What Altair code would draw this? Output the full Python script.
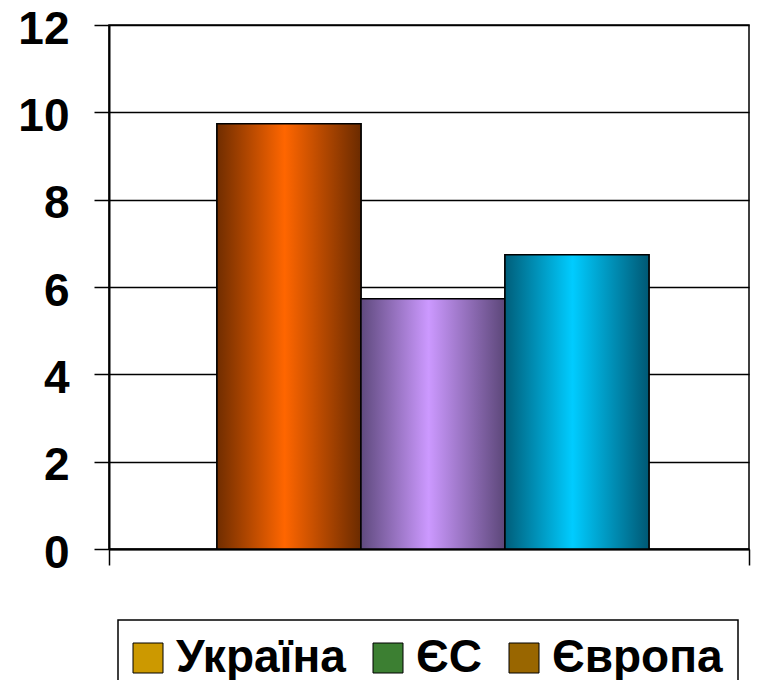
import altair as alt
import pandas as pd

series = ["Україна", "ЄС", "Європа"]
values = [9.74, 5.73, 6.74]
group = ["Показник", "Показник", "Показник"]
y_ticks = [0, 2, 4, 6, 8, 10, 12]
legend_colors = ["#CC9900", "#3C7F32", "#996600"]
bar_edge_left = ["#702D00", "#5F4A7E", "#005E7A"]
bar_mid = ["#FF6600", "#CC99FF", "#00CCFF"]
bar_edge_right = ["#6B2B00", "#5C4779", "#005874"]

df = pd.DataFrame({"group": group, "series": series, "value": values})

FONT = "Liberation Sans"

base = alt.Chart(df).encode(
    x=alt.X(
        "group:N",
        scale=alt.Scale(paddingInner=0, paddingOuter=0),
        axis=alt.Axis(
            title=None, labels=False, tickBand="extent", tickSize=16,
            tickColor="black", tickWidth=1.5, domainColor="black",
            domainWidth=2, grid=False,
        ),
    ),
    xOffset=alt.XOffset(
        "series:N", sort=series,
        scale=alt.Scale(domain=series, paddingOuter=0.7222, paddingInner=0,
                        align=0.519),
    ),
    y=alt.Y(
        "value:Q",
        scale=alt.Scale(domain=[0, 12], nice=False),
        axis=alt.Axis(
            title=None, values=y_ticks, grid=True, gridColor="black",
            gridWidth=1.5, gridOpacity=1, tickSize=15, tickColor="black",
            tickWidth=1.5, domainColor="black", domainWidth=2,
            labelFont=FONT, labelFontSize=46, labelFontWeight="bold",
            labelColor="black", labelPadding=25, labelOffset=4,
        ),
    ),
)

legend_layer = base.mark_bar(stroke="black", strokeWidth=1.5).encode(
    color=alt.Color(
        "series:N", sort=series,
        scale=alt.Scale(domain=series, range=legend_colors),
        legend=alt.Legend(
            title=None, orient="none", legendX=9, legendY=595,
            direction="horizontal", symbolType="square", symbolSize=900,
            symbolStrokeColor="black", symbolStrokeWidth=1,
            symbolOffset=-8,
            labelFont=FONT, labelFontSize=46, labelFontWeight="bold",
            labelColor="black", labelOffset=5, columnPadding=25,
            labelLimit=400, padding=15, strokeColor="black",
        ),
    )
)

layers = [legend_layer]
for s, l, m, r in zip(series, bar_edge_left, bar_mid, bar_edge_right):
    grad = alt.Gradient(
        gradient="linear",
        stops=[
            alt.GradientStop(color=l, offset=0),
            alt.GradientStop(color=m, offset=0.47),
            alt.GradientStop(color=r, offset=1),
        ],
        x1=0, x2=1, y1=0, y2=0,
    )
    layers.append(
        base.transform_filter(alt.datum.series == s).mark_bar(
            fill=grad, stroke="black", strokeWidth=1.5
        )
    )

chart = alt.layer(*layers).properties(
    width=640,
    height=524,
    autosize=alt.AutoSizeParams(type="none"),
    padding={"left": 101, "top": 17, "right": 2, "bottom": 131},
    background="white",
).configure_view(
    stroke="black", strokeWidth=1.5
).configure_legend(
    strokeWidth=1.5
)

chart.save("out.html", embed_options={"renderer": "svg", "actions": False})
